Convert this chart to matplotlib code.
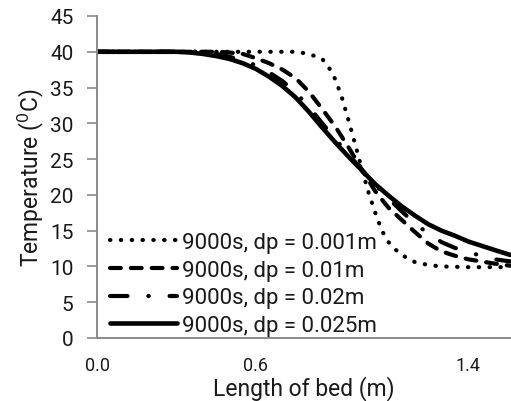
import matplotlib
matplotlib.use("Agg")
import matplotlib.pyplot as plt

# ---- data ----
x_dp001 = [0.0, 0.2, 0.4, 0.6, 0.75, 0.80, 0.85, 0.875, 0.90, 0.925, 0.95, 0.975, 1.0,
           1.025, 1.05, 1.075, 1.10, 1.125, 1.15, 1.20, 1.25, 1.30, 1.40, 1.56]
t_dp001 = [40.0, 40.0, 40.0, 40.0, 40.0, 39.7, 39.0, 37.8, 36.1, 33.5, 30.3, 27.0, 23.5,
           20.3, 17.5, 15.0, 13.4, 12.4, 11.6, 10.6, 10.2, 10.0, 9.9, 9.9]

x_grid = [0.0, 0.1, 0.2, 0.3, 0.35, 0.4, 0.45, 0.5, 0.55, 0.6, 0.65, 0.7, 0.75, 0.8, 0.85,
          0.9, 0.95, 1.0, 1.05, 1.1, 1.15, 1.2, 1.25, 1.3, 1.35, 1.4, 1.45, 1.5, 1.56]
t_dp01 = [40.0, 40.0, 40.0, 40.0, 40.0, 40.0, 40.0, 39.9, 39.7, 39.1, 38.4, 37.5, 36.3, 34.4,
          32.0, 29.5, 26.6, 23.5, 20.5, 18.2, 16.5, 14.8, 13.2, 12.1, 11.5, 11.0, 10.7, 10.4, 10.1]
t_dp02 = [40.0, 40.0, 40.0, 40.0, 40.0, 40.0, 39.7, 39.3, 38.8, 38.1, 37.1, 35.9, 34.3, 32.3,
          30.0, 27.8, 25.6, 23.5, 21.4, 19.5, 17.7, 16.0, 14.6, 13.4, 12.6, 12.0, 11.5, 11.0, 10.7]
t_dp025 = [40.0, 40.0, 40.0, 40.0, 39.9, 39.7, 39.4, 39.0, 38.4, 37.6, 36.5, 35.2, 33.6, 31.6,
           29.4, 27.3, 25.3, 23.4, 21.5, 19.9, 18.4, 17.1, 15.9, 15.0, 14.3, 13.5, 12.9, 12.3, 11.6]

labels = ["9000s, dp = 0.001m", "9000s, dp = 0.01m", "9000s, dp = 0.02m", "9000s, dp = 0.025m"]
yticks = [0, 5, 10, 15, 20, 25, 30, 35, 40, 45]
xticks = [0.0, 0.6, 1.4]
xticklabels = ["0.0", "0.6", "1.4"]

plt.rcParams['font.family'] = ['Roboto', 'DejaVu Sans']

W, H = 511, 402
fig = plt.figure(figsize=(W / 100, H / 100), dpi=100)
left, bottom, top, right = 97, 63, 385, 511
ax = fig.add_axes([left / W, bottom / H, (right - left) / W, (top - bottom) / H])

ax.plot(x_dp001, t_dp001, color='black', lw=3.0, linestyle=(0, (0.1, 2.5)),
        dash_capstyle='round', label=labels[0])
ax.plot(x_grid, t_dp01, color='black', lw=3.0, linestyle=(0, (2.6, 2.4)),
        dash_capstyle='round', label=labels[1])
ax.plot(x_grid, t_dp02, color='black', lw=3.0, linestyle=(0, (4.2, 5.0, 0.1, 5.0)),
        dash_capstyle='round', label=labels[2])
ax.plot(x_grid, t_dp025, color='black', lw=3.3, linestyle='-', solid_capstyle='round',
        label=labels[3])

ax.set_xlim(0, (right - left) / 265.0)
ax.set_ylim(0, 45)
ax.set_yticks(yticks)
ax.set_xticks(xticks)
ax.set_xticklabels(xticklabels)

for s in ['top', 'right']:
    ax.spines[s].set_visible(False)
for s in ['left', 'bottom']:
    ax.spines[s].set_color('#8a8a8a')
    ax.spines[s].set_linewidth(1.4)

ax.tick_params(axis='y', direction='out', length=7, width=1.2, color='#8a8a8a',
               labelsize=15, pad=10, labelcolor='#1a1a1a')
ax.tick_params(axis='x', length=0, labelsize=13, pad=13, labelcolor='#1a1a1a')

ax.set_xlabel("Length of bed (m)", fontsize=16.5, labelpad=1, color='#1a1a1a')
ax.set_ylabel("Temperature ($^{0}$C)", fontsize=16.5, labelpad=3, color='#1a1a1a')

leg = ax.legend(loc='lower left', bbox_to_anchor=(110 / W, 65 / H),
                bbox_transform=fig.transFigure, frameon=False, fontsize=16,
                handlelength=3.0, handletextpad=0.25, labelspacing=0.3,
                borderpad=0, borderaxespad=0)
for t in leg.get_texts():
    t.set_color('#1a1a1a')

fig.savefig("out.png", dpi=100)
